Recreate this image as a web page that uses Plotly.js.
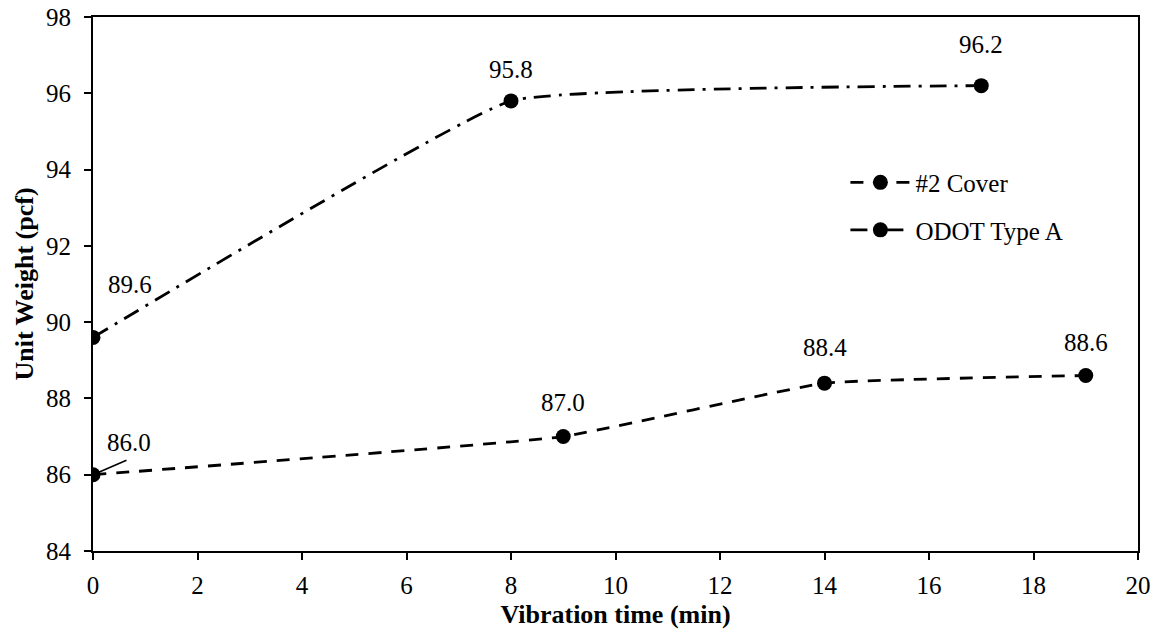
<!DOCTYPE html>
<html>
<head>
<meta charset="utf-8">
<script src="https://cdn.plot.ly/plotly-3.0.1.min.js"></script>
<style>html,body{margin:0;padding:0;background:#fff;}#chart{width:1158px;height:634px;}</style>
</head>
<body>
<div id="chart"></div>
<script>
var coverX = [0, 9, 14, 19];
var coverY = [86.0, 87.0, 88.4, 88.6];
var odotX = [0, 8, 17];
var odotY = [89.6, 95.8, 96.2];
var xTicks = [0, 2, 4, 6, 8, 10, 12, 14, 16, 18, 20];
var yTicks = [84, 86, 88, 90, 92, 94, 96, 98];

var FONT = "Times New Roman";

var traces = [
  {
    x: coverX, y: coverY, name: "#2 Cover", type: "scatter", mode: "lines+markers",
    legendgroup: "a",
    line: {color: "#000", width: 2.8, dash: "13px,10px", shape: "spline", smoothing: 0.3},
    marker: {color: "#000", size: 15}
  },
  {
    x: odotX, y: odotY, name: "ODOT Type A", type: "scatter", mode: "lines+markers",
    legendgroup: "b",
    line: {color: "#000", width: 2.8, dash: "17px,8px,3px,8px", shape: "spline", smoothing: 0.3},
    marker: {color: "#000", size: 15}
  }
];

var coverOff = [[36, -32], [0, -34], [0, -36], [0, -33]];
var odotOff = [[37, -53], [0, -31], [0, -41]];
var annotations = [];
coverX.forEach(function (xv, i) {
  annotations.push({
    x: xv, y: coverY[i], xref: "x", yref: "y", text: coverY[i].toFixed(1),
    showarrow: true, arrowhead: 0, arrowwidth: 0.1, arrowcolor: "rgba(0,0,0,0)",
    ax: coverOff[i][0], ay: coverOff[i][1], standoff: 0,
    font: {family: FONT, size: 25, color: "#000"}
  });
});
// leader line from the first #2 Cover label to its point
annotations.push({
  x: coverX[0], y: coverY[0], xref: "x", yref: "y", text: "",
  showarrow: true, arrowhead: 0, arrowwidth: 1.6, arrowcolor: "#000",
  ax: 35, ay: -15, standoff: 0
});
odotX.forEach(function (xv, i) {
  annotations.push({
    x: xv, y: odotY[i], xref: "x", yref: "y", text: odotY[i].toFixed(1),
    showarrow: true, arrowhead: 0, arrowwidth: 0.1, arrowcolor: "rgba(0,0,0,0)",
    ax: odotOff[i][0], ay: odotOff[i][1], standoff: 0,
    font: {family: FONT, size: 25, color: "#000"}
  });
});

var layout = {
  width: 1158, height: 634,
  margin: {l: 93, r: 20, t: 17, b: 83},
  paper_bgcolor: "#fff", plot_bgcolor: "#fff",
  font: {family: FONT, size: 25, color: "#000"},
  showlegend: true,
  legend: {
    x: 0.72, y: 0.733, xanchor: "left", yanchor: "top",
    bgcolor: "rgba(0,0,0,0)", itemwidth: 60, tracegroupgap: 12,
    font: {family: FONT, size: 25, color: "#000"}
  },
  xaxis: {
    range: [0, 20], tickvals: xTicks, ticktext: xTicks.map(String),
    showgrid: false, zeroline: false, showline: true, mirror: true,
    linecolor: "#000", linewidth: 2, ticks: "outside", ticklen: 7, tickwidth: 2, tickcolor: "#000",
    ticklabelstandoff: 4,
    tickfont: {family: FONT, size: 25, color: "#000"},
    title: {text: "<b>Vibration time (min)</b>", font: {family: FONT, size: 26, color: "#000"}, standoff: 7}
  },
  yaxis: {
    range: [84, 98], tickvals: yTicks, ticktext: yTicks.map(String),
    showgrid: false, zeroline: false, showline: true, mirror: true,
    linecolor: "#000", linewidth: 2, ticks: "outside", ticklen: 7, tickwidth: 2, tickcolor: "#000",
    ticklabelstandoff: 8,
    tickfont: {family: FONT, size: 25, color: "#000"},
    title: {text: "<b>Unit Weight (pcf)</b>", font: {family: FONT, size: 26, color: "#000"}, standoff: 5}
  },
  annotations: annotations
};

Plotly.newPlot("chart", traces, layout, {displayModeBar: false, staticPlot: true});
</script>
</body>
</html>
